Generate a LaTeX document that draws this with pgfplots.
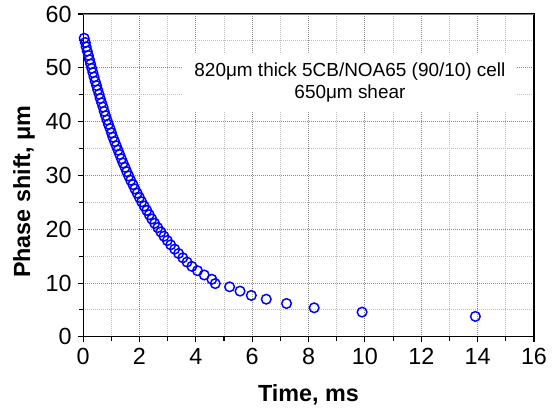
\documentclass[border=0pt]{standalone}
\usepackage{fontspec}
\setmainfont{Liberation Sans}
\usepackage{pgfplots}
\pgfplotsset{compat=1.18}
\definecolor{markblue}{RGB}{0,0,255}
\definecolor{majgrid}{RGB}{135,135,135}
\definecolor{mingrid}{RGB}{190,190,190}

% phase shift relaxation
\pgfplotstableread{
t     phi
0.04  55.5
0.08  54.7
0.11  53.9
0.15  53.1
0.19  52.3
0.23  51.5
0.27  50.7
0.31  49.9
0.35  49.1
0.39  48.3
0.43  47.5
0.48  46.7
0.52  45.9
0.57  45.1
0.61  44.3
0.66  43.5
0.71  42.7
0.75  41.9
0.80  41.1
0.85  40.3
0.90  39.5
0.96  38.7
1.01  37.9
1.06  37.1
1.12  36.3
1.18  35.5
1.24  34.7
1.30  33.9
1.36  33.1
1.42  32.3
1.49  31.5
1.55  30.7
1.62  29.9
1.69  29.1
1.77  28.3
1.84  27.5
1.92  26.7
2.00  25.9
2.08  25.1
2.17  24.3
2.26  23.5
2.35  22.7
2.44  21.9
2.54  21.1
2.65  20.3
2.76  19.5
2.87  18.7
2.99  17.9
3.11  17.1
3.25  16.3
3.39  15.5
3.54  14.7
3.69  13.9
3.86  13.1
4.06  12.3
4.30  11.5
4.57  10.7
4.69  9.9
5.20  9.3
5.57  8.5
5.97  7.7
6.50  7.0
7.22  6.2
8.20  5.4
9.90  4.6
13.92 3.8
}\phasedata

\begin{document}
\begin{tikzpicture}
\begin{axis}[
  name=ax,
  width=338pt, height=242pt, scale only axis,
  xmin=0, xmax=16, ymin=0, ymax=60,
  xtick={0,2,...,16}, ytick={0,10,...,60},
  minor x tick num=1, minor y tick num=1,
  tick pos=left, tick align=outside,
  major tick length=4pt, minor tick length=3pt,
  grid=both,
  major grid style={dash pattern=on 0.75pt off 0.75pt, majgrid, line width=0.7pt},
  minor grid style={dash pattern=on 0.75pt off 0.75pt, mingrid, line width=0.7pt},
  axis line style={line width=0.8pt},
  every tick/.style={black, line width=0.8pt},
  /pgf/number format/assume math mode=true,
  ticklabel style={font=\fontsize{17.5}{20}\selectfont},
  xticklabel style={yshift=-1pt},
  yticklabel style={xshift=-1pt},
  xlabel={Time, ms},
  ylabel={Phase shift, μm},
  label style={font=\fontsize{17.5}{20}\selectfont\bfseries},
  xlabel style={at={(axis description cs:0.5,-0.18)}, anchor=center},
  ylabel style={at={(axis description cs:-0.131,0.45)}, anchor=center},
]
\addplot[only marks, mark=o, mark size=3.6pt, markblue,
  mark options={line width=1.1pt}] table[x=t, y=phi] {\phasedata};
\draw[gray, line width=0.8pt] (rel axis cs:0,1) -- (rel axis cs:1,1);
\node[fill=white, align=center, inner xsep=9pt, inner ysep=7pt,
  font=\fontsize{14.2}{16.2}\selectfont] at (axis cs:9.47,47.3)
  {820μm thick 5CB/NOA65 (90/10) cell\\650μm shear};
\end{axis}
\path (ax.south west) ++(-62.25pt,-55.5pt);
\path (ax.north east) ++(13.5pt,10.5pt);
\end{tikzpicture}
\end{document}
